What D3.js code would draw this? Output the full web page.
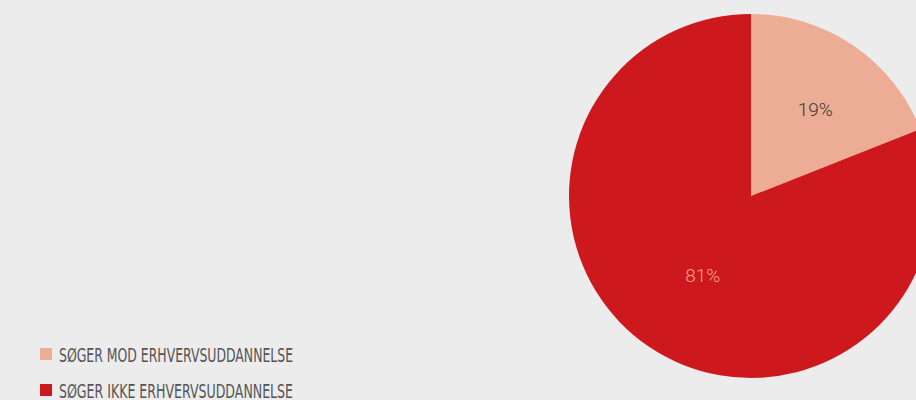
<!DOCTYPE html>
<html>
<head>
<meta charset="utf-8">
<script src="https://cdn.jsdelivr.net/npm/d3@7"></script>
<style>
  html, body { margin: 0; padding: 0; background: #ececec; }
  svg { display: block; }
</style>
</head>
<body>
<div id="chart"></div>
<script>
var categories = ['SØGER MOD ERHVERVSUDDANNELSE', 'SØGER IKKE ERHVERVSUDDANNELSE'];
var values = [19, 81];
var slice_colors = ['#edac95', '#cd181d'];
var label_colors = ['#3a3a3a', '#eda58f'];

var width = 916, height = 400;

var svg = d3.select('#chart')
  .append('svg')
  .attr('width', width)
  .attr('height', height);

svg.append('rect')
  .attr('width', width)
  .attr('height', height)
  .attr('fill', '#ececec');

// pie sits to the right, partly cut off by the edge
var radius = 182;
var pie_group = svg.append('g')
  .attr('transform', 'translate(751,196)');

var pie = d3.pie().sort(null).value(function(d){ return d; });
var arc = d3.arc().innerRadius(0).outerRadius(radius);
var label_arc = d3.arc().innerRadius(100).outerRadius(100);

var slices = pie(values);

pie_group.selectAll('path')
  .data(slices)
  .enter()
  .append('path')
  .attr('d', arc)
  .attr('fill', function(d, i){ return slice_colors[i]; });

pie_group.selectAll('text')
  .data(slices)
  .enter()
  .append('text')
  .attr('transform', function(d) {
    var c = label_arc.centroid(d);
    return 'translate(' + (c[0] + 8) + ',' + (c[1] + 3) + ')';
  })
  .attr('text-anchor', 'middle')
  .style('font-family', 'Roboto, "Noto Sans", sans-serif')
  .style('font-weight', 300)
  .style('font-size', '19px')
  .attr('fill', function(d, i){ return label_colors[i]; })
  .text(function(d){ return d.data + '%'; });

// legend
var legend = svg.append('g')
  .attr('class', 'legend')
  .attr('transform', 'translate(40,348)');

var legend_items = legend.selectAll('g')
  .data(categories)
  .enter()
  .append('g')
  .attr('transform', function(d, i){ return 'translate(0,' + (i * 36) + ')'; });

legend_items.append('rect')
  .attr('width', 12)
  .attr('height', 12)
  .attr('fill', function(d, i){ return slice_colors[i]; });

legend_items.append('text')
  .attr('x', 19)
  .attr('y', 13.5)
  .attr('textLength', 234)
  .attr('lengthAdjust', 'spacingAndGlyphs')
  .style('font-family', '"Liberation Sans Narrow", "DejaVu Sans Condensed", sans-serif')
  .style('font-size', '20px')
  .attr('fill', '#555')
  .text(function(d){ return d; });
</script>
</body>
</html>
